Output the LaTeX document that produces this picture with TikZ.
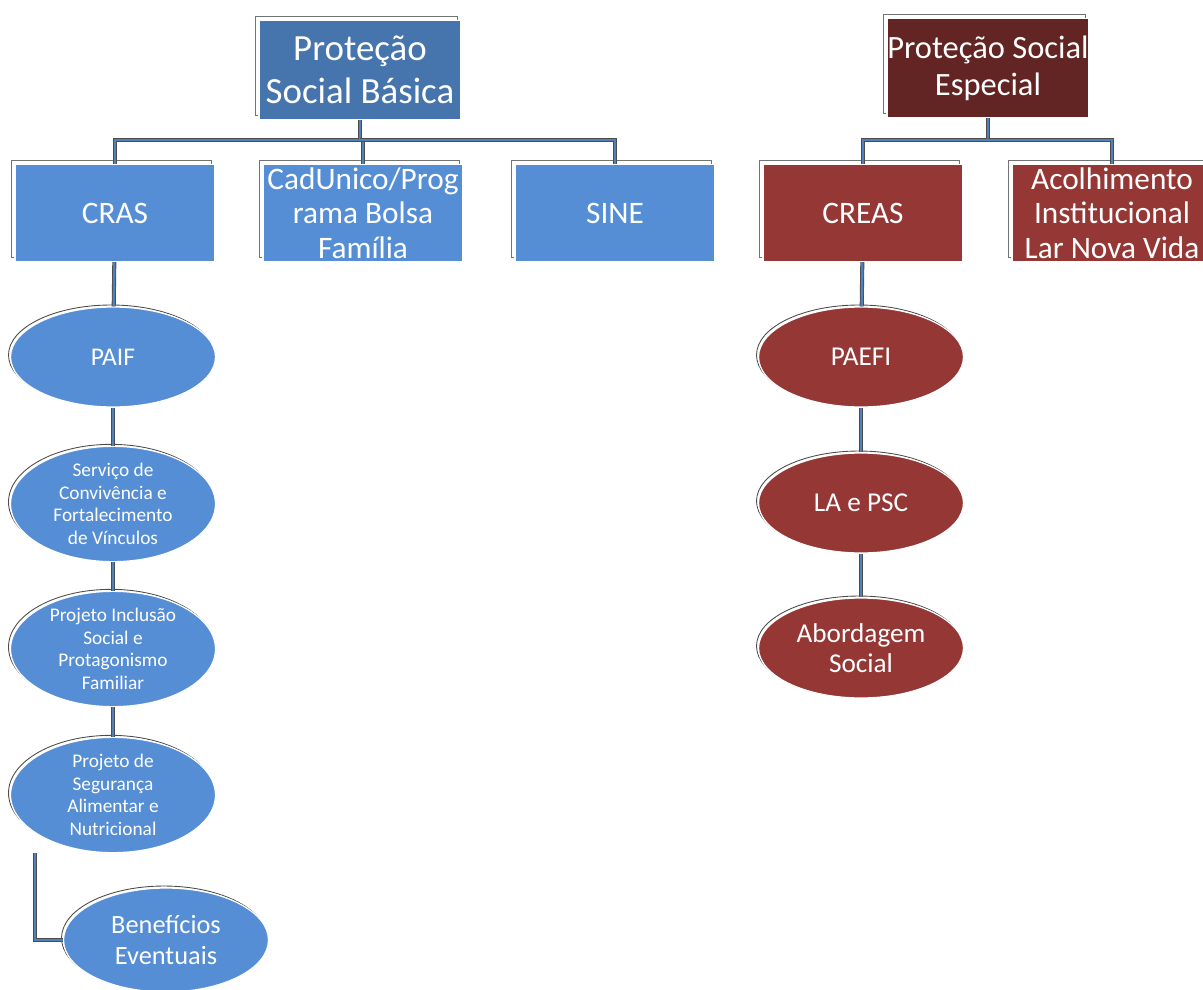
\documentclass[tikz,border=0pt]{standalone}
\usepackage{fontspec}
\setmainfont{Carlito}
\usepackage{xcolor}
\usepackage{tikz}
\usetikzlibrary{shapes.geometric}

\definecolor{basicadark}{HTML}{4674AC}
\definecolor{basicalight}{HTML}{558ED5}
\definecolor{especialdark}{HTML}{632523}
\definecolor{especiallight}{HTML}{953735}
\definecolor{linkblue}{HTML}{4F81BD}

\tikzset{
  box/.style={draw=white, line width=0.7pt, text=white, inner sep=0pt, align=center,
    minimum width=4cm, minimum height=1.94cm, font=\fontsize{17.8}{19.5}\selectfont,
    preaction={draw=black!55, line width=0.5pt, transform canvas={shift={(-0.08cm,0.09cm)}}}},
  head/.style={box, minimum width=4.04cm, minimum height=1.98cm},
  oval/.style={ellipse, draw=white, line width=0.7pt, text=white, inner sep=0pt, align=center,
    minimum width=4.1cm, minimum height=2cm, font=\fontsize{15.5}{17}\selectfont,
    preaction={draw=black!70, line width=0.5pt, transform canvas={shift={(-0.04cm,0.04cm)}}}},
  small/.style={font=\fontsize{11}{12.9}\selectfont},
  link/.style={draw=black!70, line width=0.5pt, double=linkblue, double distance=1.3pt}
}

\begin{document}
\begin{tikzpicture}[x=0.02cm, y=-0.02cm]
  \useasboundingbox (0,0) rectangle (1203,990);

  % protecao social basica
  \node[head, fill=basicadark, font=\fontsize{21}{24.5}\selectfont] (basica) at (360,70) {Proteção\\Social Básica};
  \node[box, fill=basicalight] (cras) at (115,213) {CRAS};
  \node[box, fill=basicalight] (cadunico) at (363,213) {CadUnico/Prog\\rama Bolsa\\Família};
  \node[box, fill=basicalight] (sine) at (615,213) {SINE};

  \node[oval, fill=basicalight, font=\fontsize{14.5}{17}\selectfont] (paif) at (113,357) {PAIF};
  \node[oval, small, fill=basicalight] (servico) at (113,504) {Serviço de\\Convivência e\\Fortalecimento\\de Vínculos};
  \node[oval, small, fill=basicalight] (inclusao) at (113,649) {Projeto Inclusão\\Social e\\Protagonismo\\Familiar};
  \node[oval, small, fill=basicalight] (seguranca) at (113,795) {Projeto de\\Segurança\\Alimentar e\\Nutricional};
  \node[oval, fill=basicalight, minimum height=2.08cm, font=\fontsize{15}{18}\selectfont] (beneficios) at (166,940) {Benefícios\\Eventuais};

  \coordinate (busb) at (360,140);
  \draw[link] (basica.south) -- (busb) -| (cras.north);
  \draw[link] (busb) -| (cadunico.north);
  \draw[link] (busb) -| (sine.north);

  \draw[link] (cras) -- (paif);
  \draw[link] (paif) -- (servico);
  \draw[link] (servico) -- (inclusao);
  \draw[link] (inclusao) -- (seguranca);
  \draw[link] ([xshift=-1.56cm]seguranca.south) |- (beneficios.west);

  % protecao social especial
  \node[head, fill=especialdark, font=\fontsize{18.5}{21}\selectfont] (especial) at (988,68) {Proteção Social\\Especial};
  \node[box, fill=especiallight] (creas) at (863,213) {CREAS};
  \node[box, fill=especiallight] (acolhimento) at (1112,213) {Acolhimento\\Institucional\\Lar Nova Vida};

  \node[oval, fill=especiallight] (paefi) at (861,357) {PAEFI};
  \node[oval, fill=especiallight] (lapsc) at (861,503) {LA e PSC};
  \node[oval, fill=especiallight] (abordagem) at (861,648) {Abordagem\\Social};

  \coordinate (buse) at (988,140);
  \draw[link] (especial.south) -- (buse) -| (creas.north);
  \draw[link] (buse) -| (acolhimento.north);

  \draw[link] (creas) -- (paefi);
  \draw[link] (paefi) -- (lapsc);
  \draw[link] (lapsc) -- (abordagem);
\end{tikzpicture}
\end{document}
